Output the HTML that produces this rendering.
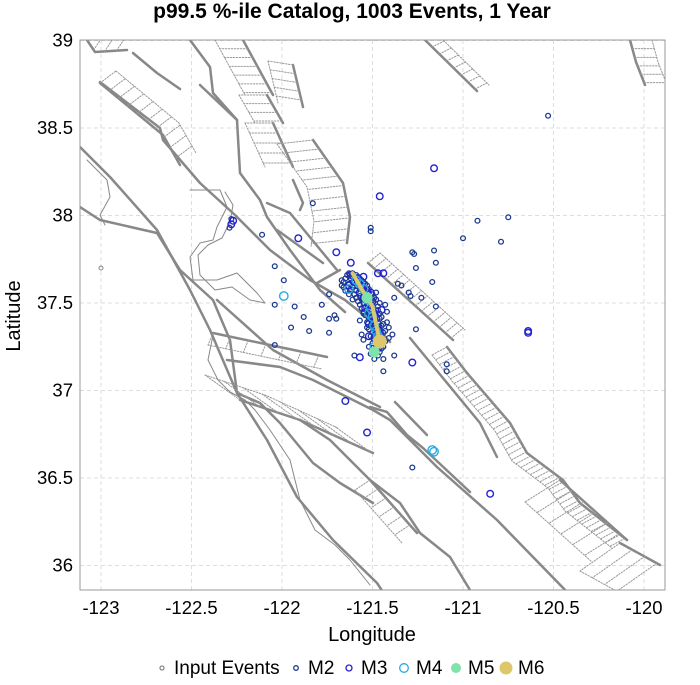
<!DOCTYPE html>
<html><head><meta charset="utf-8"><style>
html,body{margin:0;padding:0;background:#fff;}
svg{display:block;font-family:"Liberation Sans",Arial,sans-serif;}
</style></head><body>
<svg id="chart" width="700" height="685" viewBox="0 0 700 685">
<text x="352" y="18" text-anchor="middle" font-size="21" font-weight="bold" fill="#000">p99.5 %-ile Catalog, 1003 Events, 1 Year</text>
<g id="grid"></g>
<g id="faults"></g>
<g id="events"></g>
<rect x="80" y="40" width="585" height="550" fill="none" stroke="#999" stroke-width="1"/>
<g id="xticks"></g>
<g id="yticks"></g>
<text x="372" y="641" text-anchor="middle" font-size="20">Longitude</text>
<text x="20" y="316" text-anchor="middle" font-size="20" transform="rotate(-90 20 316)">Latitude</text>
<g id="legend"></g>
</svg>
<script>
const xTicks = [-123, -122.5, -122, -121.5, -121, -120.5, -120];
const xTickLabels = ["-123", "-122.5", "-122", "-121.5", "-121", "-120.5", "-120"];
const yTicks = [39, 38.5, 38, 37.5, 37, 36.5, 36];
const yTickLabels = ["39", "38.5", "38", "37.5", "37", "36.5", "36"];
const inputEvents = [[-123.00, 37.70]];
const m2Events = [
[-120.53,38.57],[-120.92,37.97],[-120.75,37.99],[-121.00,37.87],[-120.79,37.85],[-121.28,37.79],[-121.15,37.73],[-121.17,37.62],[-121.23,37.53],[-121.51,37.93],[-121.51,37.91],[-121.83,38.07],[-122.04,37.71],[-121.99,37.63],[-122.04,37.49],[-121.93,37.48],[-121.78,37.49],[-121.74,37.55],[-121.61,37.67],[-121.67,37.63],[-121.67,37.60],[-121.95,37.36],[-121.88,37.42],[-121.85,37.34],[-121.74,37.41],[-121.71,37.43],[-121.74,37.33],[-122.04,37.26],[-121.36,37.61],[-121.34,37.60],[-121.30,37.56],[-121.29,37.54],[-121.38,37.53],[-121.15,37.48],[-121.26,37.35],[-121.41,37.36],[-121.39,37.32],[-121.38,37.20],[-121.09,37.15],[-121.09,37.11],[-121.44,37.11],[-121.49,37.18],[-121.44,37.18],[-121.60,37.20],[-121.28,36.56],[-121.16,37.80],[-121.26,37.70],[-122.11,37.89],[-122.28,37.98],[-122.29,37.93],[-121.70,37.41],[-121.55,37.29],[-121.56,37.32],[-121.27,37.78],
[-121.64,37.66],[-121.62,37.64],[-121.58,37.65],[-121.56,37.63],[-121.66,37.62],[-121.63,37.61],[-121.60,37.60],[-121.57,37.60],[-121.54,37.61],[-121.62,37.58],[-121.59,37.57],[-121.55,37.57],[-121.52,37.58],[-121.60,37.55],[-121.57,37.54],[-121.53,37.54],[-121.50,37.55],[-121.48,37.56],[-121.58,37.51],[-121.55,37.50],[-121.51,37.51],[-121.48,37.52],[-121.46,37.50],[-121.56,37.47],[-121.53,37.46],[-121.50,37.47],[-121.47,37.46],[-121.54,37.43],[-121.51,37.42],[-121.48,37.43],[-121.45,37.42],[-121.53,37.39],[-121.50,37.38],[-121.47,37.39],[-121.44,37.38],[-121.52,37.35],[-121.49,37.34],[-121.46,37.35],[-121.43,37.34],[-121.51,37.31],[-121.48,37.30],[-121.45,37.31],[-121.50,37.27],[-121.47,37.26],[-121.44,37.25],[-121.49,37.23],[-121.46,37.22],[-121.52,37.25],[-121.55,37.44],[-121.57,37.40],[-121.42,37.45],[-121.43,37.49],[-121.61,37.52],[-121.65,37.57],
[-121.63,37.67],[-121.61,37.65],[-121.59,37.66],[-121.57,37.64],[-121.65,37.64],[-121.61,37.62],[-121.58,37.61],[-121.55,37.62],[-121.53,37.60],[-121.61,37.59],[-121.57,37.58],[-121.54,37.56],[-121.52,37.56],[-121.59,37.53],[-121.56,37.52],[-121.52,37.53],[-121.49,37.53],[-121.57,37.49],[-121.53,37.49],[-121.50,37.49],[-121.47,37.48],[-121.55,37.45],[-121.52,37.44],[-121.49,37.45],[-121.46,37.44],[-121.52,37.41],[-121.49,37.40],[-121.46,37.41],[-121.51,37.37],[-121.48,37.36],[-121.45,37.37],[-121.50,37.33],[-121.47,37.32],[-121.44,37.33],[-121.49,37.29],[-121.46,37.29],[-121.43,37.28],[-121.48,37.25],[-121.45,37.24],[-121.51,37.21],[-121.47,37.20],[-121.63,37.55],[-121.66,37.59],[-121.53,37.36],[-121.42,37.39],[-121.41,37.30]
];
const m3Events = [
[-121.16,38.27],[-121.46,38.11],[-121.70,37.79],[-121.62,37.73],[-121.44,37.67],[-121.47,37.67],[-121.57,37.19],[-121.65,36.94],[-121.53,36.76],[-120.64,37.33],[-120.64,37.34],[-121.28,37.16],[-120.85,36.41],[-122.27,37.97],[-121.91,37.87],[-122.28,37.95],
[-121.62,37.66],[-121.58,37.62],[-121.55,37.59],[-121.51,37.56],[-121.52,37.49],[-121.49,37.44],[-121.50,37.40],[-121.47,37.36],[-121.48,37.32],[-121.46,37.28],[-121.57,37.56],[-121.54,37.52],[-121.45,37.46],[-121.52,37.31],[-121.60,37.62],[-121.55,37.65],
[-121.59,37.64],[-121.56,37.60],[-121.53,37.57],[-121.55,37.53],[-121.50,37.51],[-121.54,37.47],[-121.51,37.45],[-121.48,37.41],[-121.52,37.38],[-121.46,37.33],[-121.49,37.30],[-121.47,37.24],[-121.63,37.60]
];
const m4Events = [[-121.59,37.63],[-121.55,37.58],[-121.53,37.52],[-121.51,37.47],[-121.50,37.42],[-121.49,37.37],[-121.47,37.31],[-121.49,37.25],[-121.57,37.61],[-121.16,36.65],[-121.17,36.66],[-121.99,37.54],[-121.63,37.58],[-121.52,37.44],[-121.48,37.34]];
const m5Events = [[-121.53,37.53],[-121.49,37.22]];
const m6Events = [[-121.46,37.28]];
const m6TraceLon = [-121.61,-121.56,-121.50,-121.48,-121.46];
const m6TraceLat = [37.67,37.58,37.48,37.38,37.28];

const NS='http://www.w3.org/2000/svg';
function xScale(lon){return 101+(lon+123)*181;}
function yScale(lat){return 303-(lat-37.5)*175;}
function mk(tag,attrs,parent){const e=document.createElementNS(NS,tag);for(const k in attrs)e.setAttribute(k,attrs[k]);parent.appendChild(e);return e;}

const grid=document.getElementById('grid'),xt=document.getElementById('xticks'),yt=document.getElementById('yticks');
xTicks.forEach((v,i)=>{const x=xScale(v);
 const l=mk('line',{x1:x,x2:x,y1:40,y2:590,stroke:'#ddd','stroke-dasharray':'4,3'},grid);
 
 
 const t=mk('text',{x:x,y:614,'text-anchor':'middle','font-size':'18.5'},xt);t.textContent=xTickLabels[i];
 
 });
yTicks.forEach((v,i)=>{const y=yScale(v);
 const l=mk('line',{x1:80,x2:665,y1:y,y2:y,stroke:'#ddd','stroke-dasharray':'4,3'},grid);
 
 
 const t=mk('text',{x:73,y:y+6,'text-anchor':'end','font-size':'18.5'},yt);t.textContent=yTickLabels[i];
 
 });

const F=document.getElementById('faults');
const clip=mk('clipPath',{id:'pc'},F);mk('rect',{x:80,y:40,width:585,height:550},clip);
const fg=mk('g',{'clip-path':'url(#pc)'},F);
function pl(pts,w,dash,col){const e=mk('polyline',{points:pts.map(p=>p.join(',')).join(' '),fill:'none',stroke:col||'#888','stroke-width':w,'stroke-linejoin':'round','stroke-linecap':'round'},fg);if(dash)e.setAttribute('stroke-dasharray',dash);return e;}
function hatch(pts,ox,oy,step){pl(pts,2.5);pl(pts.map(p=>[p[0]+ox,p[1]+oy]),1,'1.5,1.5','#999');
 let acc=0;for(let i=0;i<pts.length-1;i++){const a=pts[i],b=pts[i+1];const L=Math.hypot(b[0]-a[0],b[1]-a[1]);
  for(let d=(i==0?0:step-acc);d<=L;d+=step){const t=d/L;const x=a[0]+(b[0]-a[0])*t,y=a[1]+(b[1]-a[1])*t;pl([[x,y],[x+ox,y+oy]],1,'1.5,1.5','#999');acc=L-d;}
 }}
const thick=[
[[80,147],[110,177],[157,230],[190,290],[210,330],[237,393],[267,440],[297,497],[333,540],[377,583],[385,595]],
[[80,207],[100,220],[157,233],[180,270],[213,300],[230,340],[237,393],[260,403],[280,423],[313,463],[340,483],[373,503]],
[[100,82],[160,128],[163,140],[200,183],[235,215],[270,250],[310,280],[345,300],[370,320],[390,342]],
[[217,300],[273,350],[327,380],[380,407]],
[[227,360],[280,367],[313,380],[373,410],[390,420],[437,467],[497,520],[570,595]],
[[370,407],[387,412],[407,435],[423,448],[470,492]],
[[370,480],[400,503],[420,533],[450,557],[473,595]],
[[410,338],[438,372],[480,423],[497,457]],
[[395,402],[427,435]],
[[190,40],[210,67],[213,93],[237,120],[240,173],[260,200],[267,217],[290,250],[320,290],[345,312]],
[[200,85],[237,120]],
[[133,53],[157,73],[180,89]],
[[267,203],[290,213],[337,270]],
[[277,230],[323,263]],
[[293,180],[303,203],[300,210]],
[[317,283],[340,270]],
[[300,420],[330,440],[360,470],[370,480]]
];
thick.forEach(p=>pl(p,2.5));
hatch([[87,40],[95,52],[127,50]],8,-12,12);
hatch([[100,83],[163,135],[180,165]],16,-12,12);
hatch([[243,40],[273,95]],-28,0,10);
hatch([[267,95],[283,123]],-28,0,10);
hatch([[273,123],[293,167]],-28,0,11);
hatch([[313,140],[343,183],[350,217],[347,243]],-36,4,11);
hatch([[293,65],[303,107]],-25,-4,9);
hatch([[425,40],[477,91]],12,-6,10);
hatch([[630,40],[636,62],[645,85]],22,0,9);
hatch([[368,263],[453,340]],12,-10,8);
hatch([[447,347],[467,373],[510,423],[527,453],[563,480],[580,503],[627,540]],-15,8,6);
hatch([[560,480],[627,540]],-35,22,16);
hatch([[620,543],[660,565]],-40,28,14);
hatch([[213,333],[270,345],[327,357]],-5,12,18);
hatch([[240,400],[300,420],[373,453]],-35,-25,20);
hatch([[370,480],[417,533]],-15,10,12);
pl([[190,190],[220,190],[227,207],[217,227],[213,240],[200,243],[190,257],[193,280],[217,280],[237,273],[257,293],[265,303],[250,300],[232,287],[215,290],[200,275],[198,255],[208,245],[222,238],[230,222],[233,205],[225,192]],1,null,'#888');
pl([[87,160],[107,180],[110,197],[100,215],[105,225]],1,null,'#888');
pl([[213,335],[208,360],[218,380],[230,392],[245,400],[255,410],[270,430],[290,460],[300,500],[315,530],[335,545],[350,560],[370,585]],1,null,'#888');

const E=document.getElementById('events');
function dot(p,r,stroke,fill,sw){return mk('circle',{cx:xScale(p[0]),cy:yScale(p[1]),r:r,fill:fill,stroke:stroke,'stroke-width':sw},E);}
inputEvents.forEach(p=>{const c=dot(p,2,'#888','none',1);
 
 });
m2Events.forEach(p=>{const c=dot(p,2.4,'#1c3a8f','none',1.3);
 
 });
m3Events.forEach(p=>{const c=dot(p,3.3,'#2323d0','none',1.4);
 
 });
m4Events.forEach(p=>{const c=dot(p,4.2,'#29a8e0','none',1.4);
 
 });
const tr2=mk('polyline',{points:m6TraceLon.map((v,i)=>xScale(v)+','+yScale(m6TraceLat[i])).join(' '),fill:'none',stroke:'#dcc76a','stroke-width':4,'stroke-linecap':'round'},E);


m5Events.forEach(p=>{const c=dot(p,5.5,'none','#7de3a8',0);
 
 });
m6Events.forEach(p=>{const c=dot(p,7,'none','#dcc76a',0);
 
 });

const LG=document.getElementById('legend');
const legendLabels=["Input Events","M2","M3","M4","M5","M6"];
const legendX=[162,296,349,404,456,506];
const legendStyle=[[2,'#888','none'],[2.3,'#1c3a8f','none'],[3,'#2323d0','none'],[4.3,'#29a8e0','none'],[5,'none','#7de3a8'],[6.5,'none','#dcc76a']];
legendLabels.forEach((lab,i)=>{const g=mk('g',{},LG);
 
 
 const s=legendStyle[i];
 mk('circle',{cx:legendX[i],cy:668,r:s[0],stroke:s[1],fill:s[2],'stroke-width':1.3},g);
 const t=mk('text',{x:legendX[i]+12,y:674,'font-size':'19'},g);t.textContent=lab;});
</script>
</body></html>
